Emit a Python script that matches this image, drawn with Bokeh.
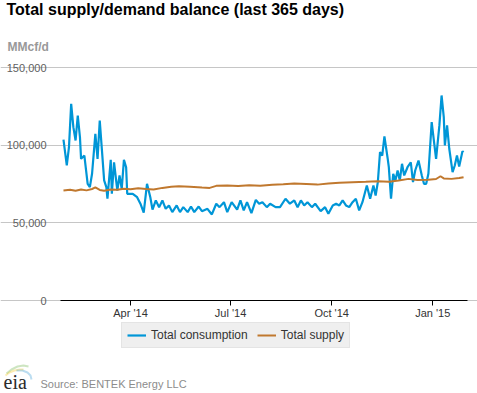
import pandas as pd
from bokeh.plotting import figure
from bokeh.models import (Range1d, FixedTicker, DatetimeTickFormatter, NumeralTickFormatter,
                          Label, Legend, LegendItem, ColumnDataSource, PolyAnnotation)
from bokeh.embed import file_html
from bokeh.resources import INLINE

# ---------------- data ----------------
cons_dates = [
    "2014-01-30", "2014-02-02", "2014-02-04", "2014-02-06", "2014-02-08", "2014-02-10",
    "2014-02-12", "2014-02-14", "2014-02-15", "2014-02-18", "2014-02-21", "2014-02-23",
    "2014-02-25", "2014-02-28", "2014-03-02", "2014-03-04", "2014-03-06", "2014-03-08",
    "2014-03-10", "2014-03-11", "2014-03-14", "2014-03-15", "2014-03-17", "2014-03-20",
    "2014-03-22", "2014-03-24", "2014-03-26", "2014-03-28", "2014-03-29", "2014-04-03",
    "2014-04-07", "2014-04-10", "2014-04-13", "2014-04-16", "2014-04-19", "2014-04-21",
    "2014-04-24", "2014-04-27", "2014-04-30", "2014-05-03", "2014-05-06", "2014-05-09",
    "2014-05-13", "2014-05-16", "2014-05-19", "2014-05-23", "2014-05-26", "2014-05-29",
    "2014-06-02", "2014-06-05", "2014-06-10", "2014-06-14", "2014-06-18", "2014-06-21",
    "2014-06-25", "2014-06-28", "2014-07-02", "2014-07-07", "2014-07-10", "2014-07-13",
    "2014-07-16", "2014-07-20", "2014-07-24", "2014-07-27", "2014-07-30", "2014-08-03",
    "2014-08-06", "2014-08-11", "2014-08-15", "2014-08-20", "2014-08-24", "2014-08-28",
    "2014-08-31", "2014-09-03", "2014-09-06", "2014-09-09", "2014-09-13", "2014-09-16",
    "2014-09-21", "2014-09-25", "2014-09-28", "2014-10-02", "2014-10-05", "2014-10-08",
    "2014-10-11", "2014-10-14", "2014-10-17", "2014-10-20", "2014-10-23", "2014-10-26",
    "2014-10-29", "2014-11-02", "2014-11-05", "2014-11-08", "2014-11-10", "2014-11-12",
    "2014-11-14", "2014-11-16", "2014-11-18", "2014-11-21", "2014-11-22", "2014-11-24",
    "2014-11-26", "2014-11-28", "2014-11-30", "2014-12-02", "2014-12-04", "2014-12-06",
    "2014-12-09", "2014-12-12", "2014-12-14", "2014-12-16", "2014-12-19", "2014-12-22",
    "2014-12-24", "2014-12-26", "2014-12-28", "2014-12-31", "2015-01-02", "2015-01-04",
    "2015-01-07", "2015-01-09", "2015-01-11", "2015-01-12", "2015-01-14", "2015-01-16",
    "2015-01-19", "2015-01-21", "2015-01-23", "2015-01-25", "2015-01-28", "2015-01-29",
]
cons_values = [
    103500, 87000, 98700, 126600, 111600, 103000,
    119100, 105100, 91200, 93300, 75100, 73000,
    81600, 107300, 91200, 115900, 96600, 77300,
    73000, 65500, 90600, 68700, 89000, 70800,
    80500, 71900, 90600, 85800, 68700, 68700,
    66500, 62300, 56500, 75100, 66500, 58500,
    64400, 60100, 64400, 59000, 61200, 56900,
    61200, 56900, 60100, 56900, 60500, 56900,
    60500, 57500, 59000, 55400, 62300, 60100,
    63300, 56900, 63300, 58500, 64400, 58000,
    63300, 56200, 64800, 62300, 63300, 60100,
    62300, 60100, 60100, 65500, 62300, 64400,
    60100, 64400, 61200, 63300, 60100, 62300,
    57500, 60100, 55800, 61200, 62300, 61200,
    64400, 61200, 60100, 63300, 65500, 58000,
    63300, 74000, 65500, 74000, 67600, 76200,
    95500, 93300, 105600, 91200, 85800, 65500,
    81600, 77300, 83700, 77300, 88000, 80500,
    85800, 89000, 76200, 83700, 90100, 80500,
    75100, 75100, 81600, 114800, 103000, 91200,
    112700, 132000, 118000, 99800, 112700, 97700,
    82600, 86900, 93300, 86300, 96100, 95500,
]

supply_dates = [
    "2014-01-30", "2014-02-05", "2014-02-10", "2014-02-15", "2014-02-20", "2014-02-25",
    "2014-02-28", "2014-03-04", "2014-03-08", "2014-03-14", "2014-03-20", "2014-03-26",
    "2014-04-01", "2014-04-08", "2014-04-15", "2014-04-22", "2014-04-30", "2014-05-08",
    "2014-05-15", "2014-05-25", "2014-06-05", "2014-06-12", "2014-06-18", "2014-06-28",
    "2014-07-08", "2014-07-18", "2014-07-28", "2014-08-08", "2014-08-18", "2014-08-28",
    "2014-09-08", "2014-09-18", "2014-09-28", "2014-10-08", "2014-10-20", "2014-11-01",
    "2014-11-12", "2014-11-22", "2014-12-01", "2014-12-10", "2014-12-18", "2014-12-28",
    "2015-01-04", "2015-01-08", "2015-01-11", "2015-01-18", "2015-01-25", "2015-01-29",
]
supply_values = [
    70800, 71300, 70600, 71400, 70900, 71800,
    72800, 71200, 70600, 71500, 71300, 72000,
    71600, 72300, 71800, 71500, 72500, 73200,
    73600, 73300, 72800, 72500, 73800, 74000,
    73700, 74200, 73900, 74500, 74800, 75400,
    75000, 74600, 75300, 75800, 76200, 76500,
    76800, 76400, 77200, 78300, 77600, 77800,
    78200, 80000, 78600, 78300, 78800, 79400,
]

x_tick_dates = ["2014-04-01", "2014-07-01", "2014-10-01", "2015-01-01"]
y_ticks = [0, 50000, 100000, 150000]
x_axis_start = "2014-01-27 07:00"
x_axis_end = "2015-02-01 14:00"
y_axis_start, y_axis_end = 0, 150000

title_text = "Total supply/demand balance (last 365 days)"
unit_text = "MMcf/d"
source_text = "Source: BENTEK Energy LLC"
series_names = ["Total consumption", "Total supply"]
series_colors = ["#0096d7", "#c0782e"]

FONT = "Liberation Sans"

# ---------------- layout geometry (page pixels) ----------------
W, H = 477, 393
PL, PR, PT, PB = 60, 467, 67, 300          # plot-area box in the page

x0 = pd.Timestamp(x_axis_start)
x1 = pd.Timestamp(x_axis_end)
ms_per_px = (x1 - x0) / (PR - PL)
val_per_px = (y_axis_end - y_axis_start) / (PB - PT)
xr = Range1d((x0 - ms_per_px * PL).to_pydatetime(), (x1 + ms_per_px * (W - PR)).to_pydatetime())
yr = Range1d(y_axis_start - val_per_px * (H - PB), y_axis_end + val_per_px * PT)

cons_src = ColumnDataSource(dict(date=pd.to_datetime(cons_dates), value=cons_values))
sup_src = ColumnDataSource(dict(date=pd.to_datetime(supply_dates), value=supply_values))

p = figure(width=W, height=H, x_axis_type="datetime",
           output_backend="svg", toolbar_location=None,
           x_range=xr, y_range=yr, min_border=0)
p.outline_line_color = None
p.background_fill_color = "white"
p.border_fill_color = "white"

r1 = p.line(x="date", y="value", source=cons_src, line_color=series_colors[0], line_width=2.2)
r2 = p.line(x="date", y="value", source=sup_src, line_color=series_colors[1], line_width=2)

x0_ms = x0.value // 10**6
x1_ms = x1.value // 10**6

# x axis, pinned at y = 0
tick_ms = [pd.Timestamp(d).value // 10**6 for d in x_tick_dates]
xa = p.xaxis[0]
xa.fixed_location = y_axis_start
xa.bounds = (x0_ms, x1_ms)
xa.ticker = FixedTicker(ticks=tick_ms)
fmt = "%b '%y"
xa.formatter = DatetimeTickFormatter(days=fmt, months=fmt, years=fmt)
xa.axis_line_color = "black"
xa.axis_line_width = 1
xa.major_tick_line_color = "black"
xa.major_tick_out = 5
xa.major_tick_in = 0
xa.minor_tick_line_color = None
xa.major_label_standoff = 1
xa.major_label_text_font = FONT
xa.major_label_text_font_size = "11px"
xa.major_label_text_color = "#333333"

# y axis, pinned at the left edge of the plot area
ya = p.yaxis[0]
ya.fixed_location = x0_ms
ya.bounds = (y_axis_start, y_axis_end)
ya.ticker = FixedTicker(ticks=y_ticks)
ya.formatter = NumeralTickFormatter(format="0,0")
ya.axis_line_color = None
ya.major_tick_line_color = None
ya.minor_tick_line_color = None
ya.major_label_standoff = 8
ya.major_label_text_font = FONT
ya.major_label_text_font_size = "11px"
ya.major_label_text_color = "#606060"

p.xgrid.grid_line_color = None
p.ygrid.ticker = FixedTicker(ticks=y_ticks)
p.ygrid.bounds = (x0_ms, x1_ms)
p.ygrid.grid_line_color = "#c6c6c6"
p.ygrid.grid_line_width = 1

# legend (screen units from the canvas bottom-left)
legend = Legend(items=[LegendItem(label=series_names[0], renderers=[r1]),
                       LegendItem(label=series_names[1], renderers=[r2])],
                location=(121, H - 348), orientation="horizontal",
                background_fill_color="#efefef", background_fill_alpha=1,
                border_line_color="#d9d9d9", padding=5, margin=0, spacing=9,
                glyph_width=19, glyph_height=10, label_height=10, label_standoff=5,
                label_text_font=FONT, label_text_font_size="12px",
                label_text_color="#333333")
p.add_layout(legend)


def txt(x, y, text, **kw):
    p.add_layout(Label(x=x, y=H - y, x_units="screen", y_units="screen", text=text,
                       text_baseline="alphabetic", **kw))


txt(6, 9, title_text, text_font=FONT, text_font_size="16px", text_font_style="bold",
    text_color="#000000")
txt(7, 46, unit_text, text_font=FONT, text_font_size="12px", text_font_style="bold",
    text_color="#999999")
txt(40, 383, source_text, text_font=FONT, text_font_size="11px", text_color="#8c8c8c")
txt(3, 381, "eia", text_font="Liberation Serif", text_font_size="20px", text_color="#2b2b2b")

# eia logo swooshes
for xs, ys, col in [
    ([6, 11, 17, 23, 28], [373, 369, 366, 365, 366], "#5aa832"),
    ([5, 9, 14, 19, 23], [375, 372, 370, 369, 369], "#f2c100"),
    ([16, 22, 27, 30, 31], [370, 370, 372, 375, 379], "#1f8fd0"),
]:
    p.add_layout(PolyAnnotation(xs=xs + xs[::-1], ys=[H - y for y in ys] + [H - y for y in ys[::-1]],
                                xs_units="screen", ys_units="screen",
                                fill_alpha=0, line_color=col, line_width=2))

open("out.html", "w").write(file_html(p, INLINE))
